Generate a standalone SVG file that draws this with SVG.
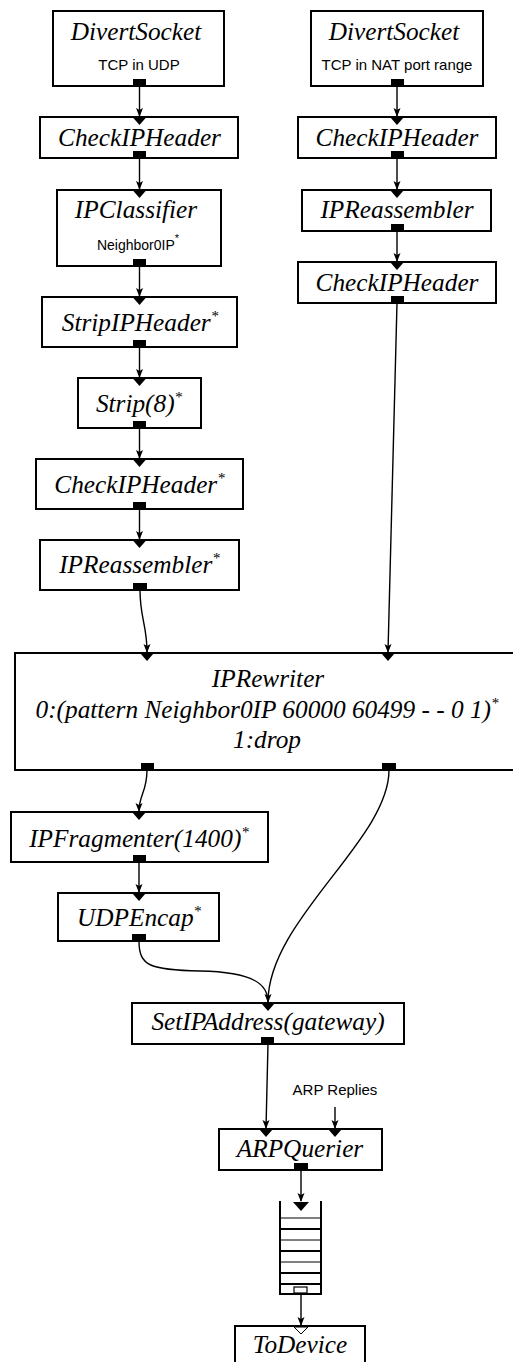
<svg xmlns="http://www.w3.org/2000/svg" width="513" height="1362" viewBox="0 0 513 1362">
<style>
.box{fill:#fff;stroke:#000;stroke-width:2}
.t{font-family:"Liberation Serif",serif;font-style:italic;font-size:25.3px;fill:#000;text-anchor:middle}
.s{font-family:"Liberation Sans",sans-serif;font-size:15px;fill:#000;text-anchor:middle}
.sup{font-size:15px}
.port{fill:#000}
.in{fill:#000}
.c{fill:none;stroke:#000;stroke-width:1.4}
.q{fill:none;stroke:#000}
</style>
<rect width="513" height="1362" fill="#fff"/>

<g id="connectors">
<path class="c" d="M139.5,86 V116"/>
<path class="c" d="M397,86 V116"/>
<path class="c" d="M139.5,158 V189"/>
<path class="c" d="M397,158 V189"/>
<path class="c" d="M139.5,266 V296"/>
<path class="c" d="M397,231 V261"/>
<path class="c" d="M139.5,347 V377"/>
<path class="c" d="M139.5,428 V458"/>
<path class="c" d="M139.5,509 V539"/>
<path class="c" d="M397,303 L388,652"/>
<path class="c" d="M140,590 C140,618 147,625 147,652"/>
<path class="c" d="M147,770 C147,792 139,795 139,811"/>
<path class="c" d="M139,862 V892"/>
<path class="c" d="M389,770 C389,840 268,920 268,1002"/>
<path class="c" d="M139,941 C139,966 150,970 200,971 C255,972 268,985 268,1002"/>
<path class="c" d="M268,1044 L266,1128"/>
<path class="c" d="M335,1107 V1128"/>
<path class="c" d="M301,1170 V1201"/>
<path class="c" d="M301,1293 V1325"/>
<g id="arrowheads">
<path d="M136,108 L139.5,117 L143,108 L139.5,110 z"/>
<path d="M393.5,108 L397,117 L400.5,108 L397,110 z"/>
<path d="M136,181 L139.5,190 L143,181 L139.5,183 z"/>
<path d="M393.5,181 L397,190 L400.5,181 L397,183 z"/>
<path d="M136,288 L139.5,297 L143,288 L139.5,290 z"/>
<path d="M393.5,253 L397,262 L400.5,253 L397,255 z"/>
<path d="M136,369 L139.5,378 L143,369 L139.5,371 z"/>
<path d="M136,450 L139.5,459 L143,450 L139.5,452 z"/>
<path d="M136,531 L139.5,540 L143,531 L139.5,533 z"/>
<path d="M384.5,644 L388,653 L391.5,644 L388,646 z"/>
<path d="M143.5,644 L147,653 L150.5,644 L147,646 z"/>
<path d="M135.5,803 L139,812 L142.5,803 L139,805 z"/>
<path d="M135.5,884 L139,893 L142.5,884 L139,886 z"/>
<path d="M264.5,994 L268,1003 L271.5,994 L268,996 z"/>
<path d="M262.5,1120 L266,1129 L269.5,1120 L266,1122 z"/>
<path d="M331.5,1120 L335,1129 L338.5,1120 L335,1122 z"/>
<path d="M297.5,1193 L301,1202 L304.5,1193 L301,1195 z"/>
<path d="M297.5,1317 L301,1326 L304.5,1317 L301,1319 z"/>
</g>
</g>

<g id="DivertSocket1">
<rect class="box" x="53" y="11" width="171" height="75"/>
<text class="t" x="136" y="40">DivertSocket</text>
<text class="s" x="139" y="70">TCP in UDP</text>
<rect class="port" x="133" y="79" width="13" height="7"/>
</g>
<g id="DivertSocket2">
<rect class="box" x="311" y="11" width="172" height="75"/>
<text class="t" x="394" y="40">DivertSocket</text>
<text class="s" x="397" y="70">TCP in NAT port range</text>
<rect class="port" x="391" y="79" width="13" height="7"/>
</g>
<g id="CheckIPHeader1">
<rect class="box" x="40" y="117" width="198" height="41"/>
<path class="in" d="M132.5,117 H146.5 L139.5,125 z"/>
<text class="t" x="139.5" y="146">CheckIPHeader</text>
<rect class="port" x="133" y="151" width="13" height="7"/>
</g>
<g id="CheckIPHeader2">
<rect class="box" x="298" y="117" width="198" height="41"/>
<path class="in" d="M390,117 H404 L397,125 z"/>
<text class="t" x="397" y="146">CheckIPHeader</text>
<rect class="port" x="391" y="151" width="13" height="7"/>
</g>
<g id="IPClassifier">
<rect class="box" x="57" y="190" width="164" height="76"/>
<path class="in" d="M132.5,190 H146.5 L139.5,198 z"/>
<text class="t" x="136" y="218">IPClassifier</text>
<text class="s" x="138" y="250" style="font-size:14px">Neighbor0IP<tspan dy="-8" style="font-size:11px">*</tspan></text>
<rect class="port" x="133" y="259" width="13" height="7"/>
</g>
<g id="IPReassembler1">
<rect class="box" x="302" y="190" width="189" height="41"/>
<path class="in" d="M390,190 H404 L397,198 z"/>
<text class="t" x="397" y="218">IPReassembler</text>
<rect class="port" x="391" y="224" width="13" height="7"/>
</g>
<g id="CheckIPHeader3">
<rect class="box" x="298" y="262" width="198" height="41"/>
<path class="in" d="M390,262 H404 L397,270 z"/>
<text class="t" x="397" y="291">CheckIPHeader</text>
<rect class="port" x="391" y="296" width="13" height="7"/>
</g>
<g id="StripIPHeader">
<rect class="box" x="42" y="297" width="195" height="50"/>
<path class="in" d="M132.5,297 H146.5 L139.5,305 z"/>
<text class="t" x="140" y="331">StripIPHeader<tspan class="sup" dy="-10">*</tspan></text>
<rect class="port" x="133" y="340" width="13" height="7"/>
</g>
<g id="Strip8">
<rect class="box" x="78" y="378" width="123" height="50"/>
<path class="in" d="M132.5,378 H146.5 L139.5,386 z"/>
<text class="t" x="139" y="412">Strip(8)<tspan class="sup" dy="-10">*</tspan></text>
<rect class="port" x="133" y="421" width="13" height="7"/>
</g>
<g id="CheckIPHeader4">
<rect class="box" x="36" y="459" width="207" height="50"/>
<path class="in" d="M132.5,459 H146.5 L139.5,467 z"/>
<text class="t" x="139.5" y="493">CheckIPHeader<tspan class="sup" dy="-10">*</tspan></text>
<rect class="port" x="133" y="502" width="13" height="7"/>
</g>
<g id="IPReassembler2">
<rect class="box" x="40" y="540" width="199" height="50"/>
<path class="in" d="M132.5,540 H146.5 L139.5,548 z"/>
<text class="t" x="139.5" y="573">IPReassembler<tspan class="sup" dy="-10">*</tspan></text>
<rect class="port" x="133" y="583" width="14" height="7"/>
</g>
<g id="IPRewriter">
<rect class="box" x="15" y="653" width="500" height="117"/>
<path class="in" d="M140,653 H154 L147,661 z"/>
<path class="in" d="M381,653 H395 L388,661 z"/>
<text class="t" x="268" y="687">IPRewriter</text>
<text class="t" x="267" y="718">0:(pattern Neighbor0IP 60000 60499 - - 0 1)<tspan class="sup" dy="-10">*</tspan></text>
<text class="t" x="267" y="748">1:drop</text>
<rect class="port" x="141" y="763" width="13" height="7"/>
<rect class="port" x="382" y="763" width="14" height="7"/>
</g>
<g id="IPFragmenter">
<rect class="box" x="11" y="812" width="257" height="50"/>
<path class="in" d="M132,812 H146 L139,820 z"/>
<text class="t" x="139" y="847">IPFragmenter(1400)<tspan class="sup" dy="-10">*</tspan></text>
<rect class="port" x="133" y="855" width="13" height="7"/>
</g>
<g id="UDPEncap">
<rect class="box" x="58" y="893" width="161" height="48"/>
<path class="in" d="M132,893 H146 L139,901 z"/>
<text class="t" x="139" y="926">UDPEncap<tspan class="sup" dy="-10">*</tspan></text>
<rect class="port" x="132" y="934" width="14" height="7"/>
</g>
<g id="SetIPAddress">
<rect class="box" x="132" y="1003" width="272" height="41"/>
<path class="in" d="M261,1003 H275 L268,1011 z"/>
<text class="t" x="268" y="1030">SetIPAddress(gateway)</text>
<rect class="port" x="261" y="1037" width="13" height="7"/>
</g>
<g id="ARPReplies">
<text class="s" x="335" y="1095">ARP Replies</text>
</g>
<g id="ARPQuerier">
<rect class="box" x="219" y="1129" width="163" height="41"/>
<path class="in" d="M259,1129 H273 L266,1137 z"/>
<path class="in" d="M328,1129 H342 L335,1137 z"/>
<text class="t" x="300" y="1157">ARPQuerier</text>
<rect class="port" x="294" y="1163" width="14" height="7"/>
</g>
<g id="Queue">
<path class="q" stroke-width="2" d="M280,1201 V1294 H321 V1201"/>
<path class="in" d="M293,1202 H309 L301,1211 z"/>
<line class="q" stroke-width="1" x1="280" y1="1218" x2="321" y2="1218"/>
<line class="q" stroke-width="2" x1="280" y1="1229" x2="321" y2="1229"/>
<line class="q" stroke-width="1" x1="280" y1="1240" x2="321" y2="1240"/>
<line class="q" stroke-width="2" x1="280" y1="1251" x2="321" y2="1251"/>
<line class="q" stroke-width="1" x1="280" y1="1262" x2="321" y2="1262"/>
<line class="q" stroke-width="2" x1="280" y1="1273" x2="321" y2="1273"/>
<line class="q" stroke-width="2" x1="280" y1="1284" x2="321" y2="1284"/>
<rect x="294" y="1287" width="13" height="6" fill="#fff" stroke="#000" stroke-width="1.2"/>
</g>
<g id="ToDevice">
<rect class="box" x="235" y="1326" width="130" height="50"/>
<path d="M294,1327 H308 L301,1334 z" fill="#fff" stroke="#000" stroke-width="1"/>
<text class="t" x="300" y="1353">ToDevice</text>
</g>
</svg>
